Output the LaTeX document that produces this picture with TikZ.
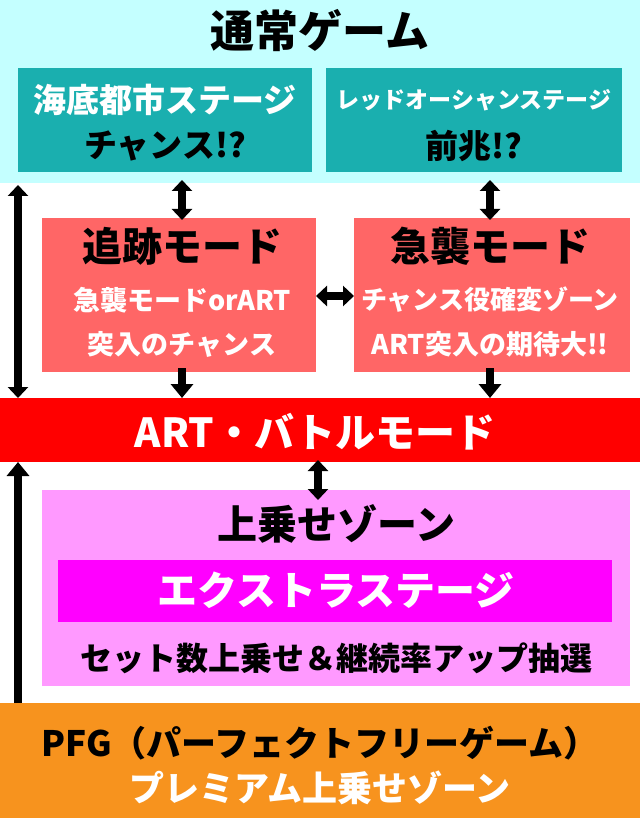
\documentclass[tikz,border=0pt]{standalone}
\usepackage{fontspec}
\setmainfont{Noto Sans CJK JP}
\usetikzlibrary{arrows.meta}
\definecolor{cyanbg}{HTML}{C4FFFF}
\definecolor{teal1}{HTML}{1AAFAF}
\definecolor{salmon}{HTML}{FF6666}
\definecolor{redb}{HTML}{FF0000}
\definecolor{pinkb}{HTML}{FF99FF}
\definecolor{magb}{HTML}{FF00FF}
\definecolor{orangeb}{HTML}{F7931E}
\tikzset{
 arr/.style={line width=8pt,-{Triangle[length=14pt,width=22pt]}},
 darr/.style={line width=8pt,{Triangle[length=11pt,width=20pt]}-{Triangle[length=11pt,width=20pt]}},
 fs/.style={font=\bfseries\fontsize{#1}{#1}\selectfont},
}
\begin{document}
\begin{tikzpicture}[x=1pt,y=-1pt]
\useasboundingbox (0,0) rectangle (640,818);
\fill[white] (0,0) rectangle (640,818);
\fill[cyanbg] (0,0) rectangle (640,183);
\node[fs=44] (t1) at (320,31) {通常ゲーム};
\fill[teal1] (18,68) rectangle (312,172);
\node[fs=33,white] (n1) at (165,100) {海底都市ステージ};
\node[fs=33] (n2) at (165,146) {チャンス!?};
\fill[teal1] (326,68) rectangle (622,172);
\node[fs=23,white] (n3) at (474,100) {レッドオーシャンステージ};
\node[fs=33] (n4) at (474,146) {前兆!?};
\fill[salmon] (42,218) rectangle (316,372);
\node[fs=40] (n5) at (182,246) {追跡モード};
\node[fs=27,white] (n6) at (182,300) {急襲モードorART};
\node[fs=27,white] (n7) at (182,344) {突入のチャンス};
\fill[salmon] (354,218) rectangle (630,372);
\node[fs=40] (n8) at (490,246) {急襲モード};
\node[fs=26,white] (n9) at (490,300) {チャンス役確変ゾーン};
\node[fs=27,white] (n10) at (490,344) {ART突入の期待大!!};
\fill[redb] (0,398) rectangle (640,462);
\node[fs=40,white] (n11) at (315,432) {ART・バトルモード};
\fill[pinkb] (42,490) rectangle (630,686);
\node[fs=40] (n12) at (336,524) {上乗せゾーン};
\fill[magb] (58,560) rectangle (612,622);
\node[fs=40,white] (n13) at (336,590) {エクストラステージ};
\node[fs=32] (n14) at (336,658) {セット数上乗せ＆継続率アップ抽選};
\fill[orangeb] (0,703) rectangle (640,818);
\node[fs=35] (n15) at (320,743) {PFG（パーフェクトフリーゲーム）};
\node[fs=35,white] (n16) at (320,788) {プレミアム上乗せゾーン};
\coordinate (a1) at (18,185); \coordinate (a2) at (18,398);
\draw[darr] (a1) -- (a2);
\coordinate (b1) at (18,703); \coordinate (b2) at (18,462);
\draw[arr] (b1) -- (b2);
\coordinate (c1) at (182,180); \coordinate (c2) at (182,220);
\draw[darr] (c1) -- (c2);
\coordinate (d1) at (490,180); \coordinate (d2) at (490,220);
\draw[darr] (d1) -- (d2);
\coordinate (e1) at (316,296); \coordinate (e2) at (354,296);
\draw[darr] (e1) -- (e2);
\coordinate (f1) at (182,368); \coordinate (f2) at (182,398);
\draw[arr] (f1) -- (f2);
\coordinate (g1) at (490,368); \coordinate (g2) at (490,398);
\draw[arr] (g1) -- (g2);
\coordinate (h1) at (318,460); \coordinate (h2) at (318,500);
\draw[darr] (h1) -- (h2);
\end{tikzpicture}
\end{document}
